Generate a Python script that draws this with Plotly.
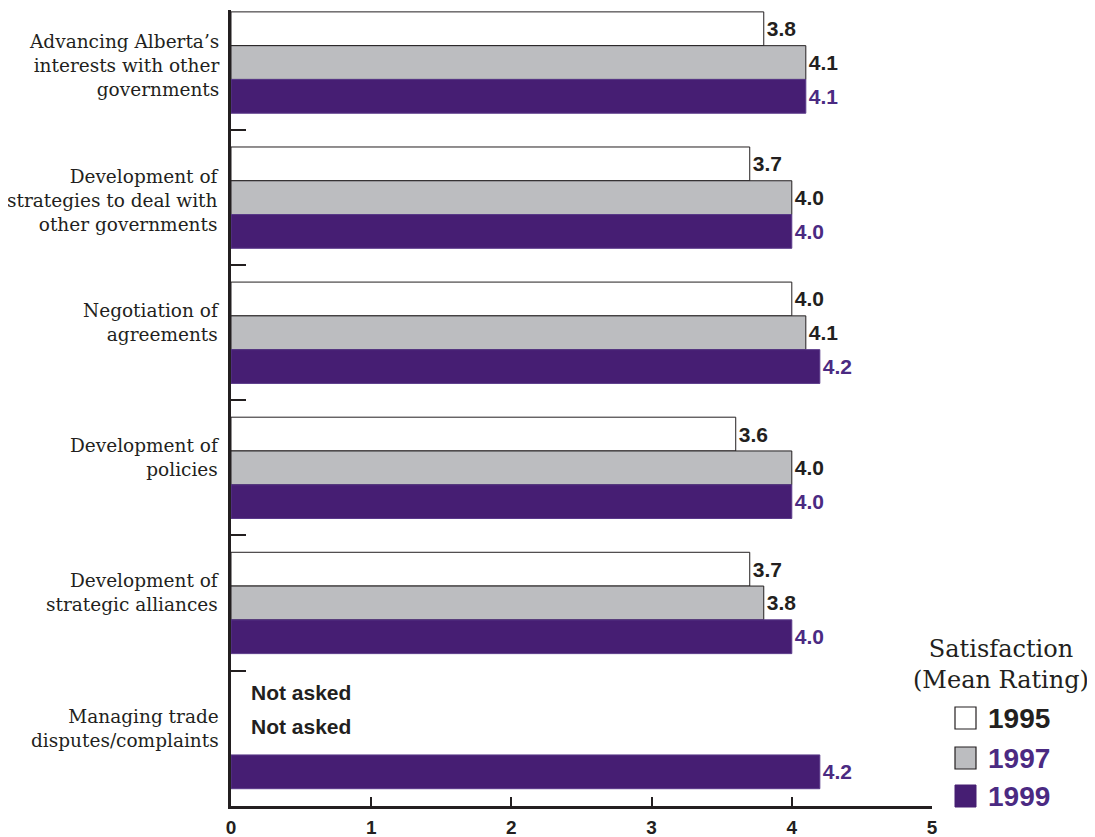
import plotly.graph_objects as go

categories = [
    "Advancing Alberta’s<br>interests with other<br>governments",
    "Development of<br>strategies to deal with<br>other governments",
    "Negotiation of<br>agreements",
    "Development of<br>policies",
    "Development of<br>strategic alliances",
    "Managing trade<br>disputes/complaints",
]
years = ["1995", "1997", "1999"]
v1995 = [3.8, 3.7, 4.0, 3.6, 3.7, None]
v1997 = [4.1, 4.0, 4.1, 4.0, 3.8, None]
v1999 = [4.1, 4.0, 4.2, 4.0, 4.0, 4.2]
not_asked_text = "Not asked"
x_ticks = [0, 1, 2, 3, 4, 5]
legend_title = "Satisfaction<br>(Mean Rating)"

DARK = "#231f20"
PURPLE = "#461e73"
PURPLE_TXT = "#4b2a82"
GRAY = "#bcbdc0"
SANS = "Liberation Sans"
SERIF = "DejaVu Serif"

# page offset (browser body margin)
OFF = 8
PL, PR, PT, PB = 231, 932, 10, 806  # plot area in page pixels


def px_x(px):
    return (px - PL) / (PR - PL)


def px_y(py):
    return (PB - py) / (PB - PT)


pos = list(range(len(categories)))

fig = go.Figure()
series = [
    (years[0], v1995, "white", DARK, DARK),
    (years[1], v1997, GRAY, DARK, DARK),
    (years[2], v1999, PURPLE, "#5a3a8a", PURPLE_TXT),
]
for name, vals, fill, line, tcol in series:
    fig.add_trace(go.Bar(
        y=pos, x=vals, name=name, orientation="h",
        marker=dict(color=fill, line=dict(color=line, width=1)),
        texttemplate="%{x:.1f}", textposition="outside",
        textfont=dict(family=SANS, size=21, color=tcol, weight="bold"),
        cliponaxis=False, showlegend=False,
    ))

annotations = []
for i, cat in enumerate(categories):
    nlines = cat.count("<br>") + 1
    annotations.append(dict(
        x=0, xref="paper", xshift=-10, y=pos[i], yref="y",
        text=cat, showarrow=False, xanchor="right", yanchor="middle",
        align="right", yshift=(-3 if nlines == 3 else 10),
        font=dict(family=SERIF, size=18.5, color=DARK),
    ))

# Not asked labels for missing values in the last category
for vals, off in [(v1995, -0.25), (v1997, 0.0)]:
    for i, v in enumerate(vals):
        if v is None:
            annotations.append(dict(
                x=0, xref="x", xshift=18, y=pos[i] + off, yref="y", yshift=12,
                text=not_asked_text, showarrow=False, xanchor="left", yanchor="middle",
                font=dict(family=SANS, size=21, color=DARK, weight="bold"),
            ))

# Custom legend
annotations.append(dict(
    x=px_x(1001), xref="paper", y=px_y(664), yref="paper",
    text=legend_title, showarrow=False, xanchor="center",
    yanchor="middle", align="center",
    font=dict(family=SERIF, size=24, color=DARK),
))

shapes = []
leg_cols = [(years[0], "white", DARK), (years[1], GRAY, PURPLE_TXT), (years[2], PURPLE, PURPLE_TXT)]
leg_y = [718, 758, 796]
for (name, fill, tcol), yc in zip(leg_cols, leg_y):
    shapes.append(dict(
        type="rect", xref="paper", yref="paper",
        x0=px_x(955), x1=px_x(976),
        y0=px_y(yc + 11), y1=px_y(yc - 11),
        fillcolor=fill,
        line=dict(color=DARK, width=1.2) if fill != PURPLE else dict(color=PURPLE, width=1),
    ))
    annotations.append(dict(
        x=px_x(986), xref="paper", y=px_y(yc), yref="paper",
        text=name, showarrow=False, xanchor="left", yanchor="middle",
        font=dict(family=SANS, size=28, color=tcol, weight="bold"),
    ))

W, H = 1095 - OFF, 837 - OFF
fig.update_layout(
    width=W, height=H,
    margin=dict(l=PL - OFF, r=W - (PR - OFF), t=PT - OFF, b=H - (PB - OFF)),
    paper_bgcolor="white", plot_bgcolor="white",
    barmode="group", bargap=0.25, bargroupgap=0,
    annotations=annotations, shapes=shapes,
    xaxis=dict(
        range=[0, 5], tickvals=x_ticks, ticks="inside", ticklen=9, tickwidth=2,
        tickcolor=DARK, showline=True, linecolor=DARK, linewidth=2.5,
        showgrid=False, zeroline=False, automargin=False,
        tickfont=dict(family=SANS, size=19, color=DARK, weight="bold"),
        ticklabelstandoff=2,
    ),
    yaxis=dict(
        range=[5.503, -0.389], tickvals=[0.5, 1.5, 2.5, 3.5, 4.5], ticks="inside",
        ticklen=15, tickwidth=2, tickcolor=DARK, showticklabels=False, automargin=False,
        showline=True, linecolor=DARK, linewidth=2.5, showgrid=False, zeroline=False,
    ),
)

fig.write_html("out.html")
